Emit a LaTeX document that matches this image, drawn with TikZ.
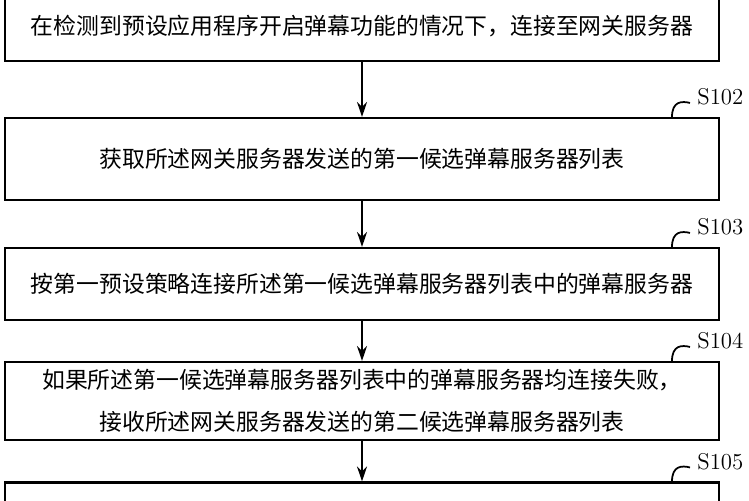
\documentclass[tikz,border=0pt]{standalone}
\usepackage{fontspec}
\newfontfamily\cjk{Noto Sans CJK SC}
\usepackage{tikz}
\usetikzlibrary{arrows.meta}
\usetikzlibrary{positioning}
\tikzstyle{stepnode}=[draw=black, line width=1.2pt, shape=rectangle, fill=white, minimum width=14.28cm, align=center, inner sep=0pt, font=\cjk\fontsize{13}{24}\selectfont]
\tikzstyle{steplabel}=[font=\fontsize{13}{15}\selectfont, anchor=west, inner sep=0pt]
\tikzstyle{steparrow}=[-{Stealth[length=0.3cm, width=0.2cm]}, line width=1pt]

\begin{document}
\begin{tikzpicture}[x=0.02cm, y=-0.02cm]
\useasboundingbox (0,0) rectangle (749,500);
\clip (0,0) rectangle (749,500);
\node [stepnode, minimum height=1.4cm] (s101) at (362,26) {在检测到预设应用程序开启弹幕功能的情况下，连接至网关服务器};
\node [stepnode, minimum height=1.64cm] (s102) at (362,159) {获取所述网关服务器发送的第一候选弹幕服务器列表};
\node [stepnode, minimum height=1.44cm] (s103) at (362,284) {按第一预设策略连接所述第一候选弹幕服务器列表中的弹幕服务器};
\node [stepnode, minimum height=1.56cm] (s104) at (362,401) {如果所述第一候选弹幕服务器列表中的弹幕服务器均连接失败，\\接收所述网关服务器发送的第二候选弹幕服务器列表};
\node [stepnode, minimum height=1.5cm] (s105) at (362,520) {};

\draw[steparrow] (s101) -- (s102);
\draw[steparrow] (s102) -- (s103);
\draw[steparrow] (s103) -- (s104);
\draw[steparrow] (s104) -- (s105);

% step labels
\foreach \s in {102,103,104,105} {
  \draw[line width=1pt] (s\s.north) ++(310,0) coordinate (h\s) .. controls +(0,-16) and +(-8,-2) .. ++(18,-14);
  \node [steplabel] at ([xshift=0.5cm, yshift=0.4cm]h\s) {S\s};
}
\end{tikzpicture}
\end{document}
